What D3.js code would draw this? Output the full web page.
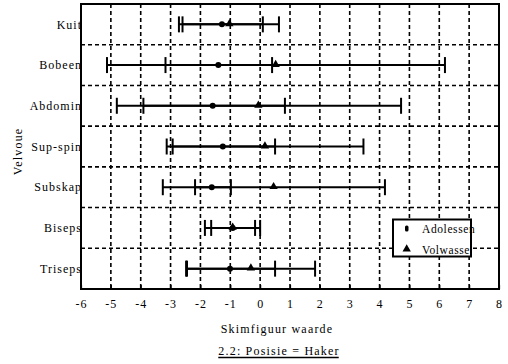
<!DOCTYPE html>
<html>
<head>
<meta charset="utf-8">
<script src="https://cdn.jsdelivr.net/npm/d3@7"></script>
<style>
  body { margin: 0; background: #fff; }
</style>
</head>
<body>
<svg id="chart" width="508" height="364"></svg>
<script>
// muscle sites (top to bottom)
const categories = ["Kuit", "Bobeen", "Abdomin", "Sup-spin", "Subskap", "Biseps", "Triseps"]
const xTicks = [-6, -5, -4, -3, -2, -1, 0, 1, 2, 3, 4, 5, 6, 7, 8]

// Adolessent: mean and interval
const adolMean = [-1.28, -1.40, -1.59, -1.25, -1.62, -0.92, -1.01]
const adolLow  = [-2.60, -3.17, -3.91, -2.93, -2.18, -1.64, -2.48]
const adolHigh = [0.09, 0.40, 0.83, 0.50, -0.98, -0.17, 0.50]

// Volwasse: mean and interval
const volMean = [-1.03, 0.52, -0.06, 0.16, 0.45, -0.92, -0.31]
const volLow  = [-2.72, -5.13, -4.80, -3.13, -3.26, -1.85, -2.45]
const volHigh = [0.63, 6.19, 4.72, 3.46, 4.18, 0.00, 1.84]

const FONT = "Liberation Serif"
const svg = d3.select("#chart").attr("font-family", FONT)
const margin = ({top: 4, right: 9, bottom: 75, left: 81})
const width = 508, height = 364

const x = d3.scaleLinear()
    .domain([-6, 8])
    .range([margin.left, width - margin.right])

const y = d3.scaleBand()
    .domain(categories)
    .range([margin.top, height - margin.bottom])
    .padding(0)

const plotH = height - margin.bottom - margin.top
const titleX = 277

// vertical dashed grid
svg.append("g")
    .selectAll("line")
    .data(xTicks.slice(1, -1))
    .join("line")
    .attr("x1", d => x(d)).attr("x2", d => x(d))
    .attr("y1", margin.top).attr("y2", height - margin.bottom)
    .attr("stroke", "#000")
    .attr("stroke-width", 1.6)
    .attr("stroke-dasharray", "4,3")

// horizontal dashed grid between categories
svg.append("g")
    .selectAll("line")
    .data(categories.slice(1))
    .join("line")
    .attr("x1", margin.left).attr("x2", width - margin.right)
    .attr("y1", d => y(d)).attr("y2", d => y(d))
    .attr("stroke", "#000")
    .attr("stroke-width", 1.6)
    .attr("stroke-dasharray", "4,3")

// x axis
svg.append("g")
    .attr("transform", `translate(0,${height - margin.bottom})`)
    .call(d3.axisBottom(x).tickValues(xTicks).tickSize(-4).tickPadding(10).tickFormat(d => String(d)))
    .attr("font-family", FONT)
    .attr("font-size", 12)
    .call(g => g.select(".domain").remove())
    .call(g => g.selectAll(".tick line").attr("stroke-width", 1.2))
    .call(g => g.selectAll(".tick text").attr("letter-spacing", "1px"))

// category labels
svg.append("g")
    .selectAll("text")
    .data(categories)
    .join("text")
    .attr("x", margin.left + 1)
    .attr("y", d => y(d) + y.bandwidth() / 2)
    .attr("dy", "0.35em")
    .attr("text-anchor", "end")
    .attr("font-size", 12)
    .attr("letter-spacing", "1px")
    .text(d => d)

// error bars
const series = [
    {name: "adol", mean: adolMean, low: adolLow, high: adolHigh},
    {name: "vol", mean: volMean, low: volLow, high: volHigh}
]
const capH = 8

series.forEach(s => {
    const g = svg.append("g").attr("stroke", "#000").attr("stroke-width", 2)
    categories.forEach((c, i) => {
        const cy = y(c) + y.bandwidth() / 2
        g.append("line")
            .attr("x1", x(s.low[i])).attr("x2", x(s.high[i]))
            .attr("y1", cy).attr("y2", cy)
        g.append("line")
            .attr("x1", x(s.low[i])).attr("x2", x(s.low[i]))
            .attr("y1", cy - capH).attr("y2", cy + capH)
        g.append("line")
            .attr("x1", x(s.high[i])).attr("x2", x(s.high[i]))
            .attr("y1", cy - capH).attr("y2", cy + capH)
    })
})

const triangle = d3.symbol().type(d3.symbolTriangle).size(30)

// means
svg.append("g")
    .selectAll("circle")
    .data(categories)
    .join("circle")
    .attr("cx", (d, i) => x(adolMean[i]))
    .attr("cy", d => y(d) + y.bandwidth() / 2)
    .attr("r", 3)
    .attr("fill", "#000")

svg.append("g")
    .selectAll("path")
    .data(categories)
    .join("path")
    .attr("d", triangle)
    .attr("transform", (d, i) => `translate(${x(volMean[i])},${y(d) + y.bandwidth() / 2 - 0.5})`)
    .attr("fill", "#000")

// legend
const lg = svg.append("g")
lg.append("rect")
    .attr("x", 393).attr("y", 219.5)
    .attr("width", 78).attr("height", 37)
    .attr("fill", "#fff")
    .attr("stroke", "#000")
    .attr("stroke-width", 2)
lg.append("rect")
    .attr("x", 405).attr("y", 225.5)
    .attr("width", 3.5).attr("height", 6).attr("rx", 1.5)
    .attr("fill", "#000")
lg.append("path")
    .attr("d", triangle)
    .attr("transform", "translate(406.7,249)")
    .attr("fill", "#000")
lg.append("text")
    .attr("x", 422).attr("y", 229).attr("dy", "0.35em")
    .attr("font-size", 11.5).attr("letter-spacing", "0.6px")
    .text("Adolessen")
lg.append("text")
    .attr("x", 422).attr("y", 249.5).attr("dy", "0.35em")
    .attr("font-size", 11.5).attr("letter-spacing", "0.6px")
    .text("Volwasse")

// frame
svg.append("rect")
    .attr("x", margin.left).attr("y", margin.top)
    .attr("width", width - margin.left - margin.right)
    .attr("height", plotH)
    .attr("fill", "none")
    .attr("stroke", "#000")
    .attr("stroke-width", 2)

// axis titles
svg.append("text")
    .attr("x", titleX)
    .attr("y", 333)
    .attr("text-anchor", "middle")
    .attr("font-size", 12)
    .attr("letter-spacing", "1.2px")
    .text("Skimfiguur waarde")

svg.append("text")
    .attr("transform", `translate(22,${(margin.top + height - margin.bottom) / 2 + 5}) rotate(-90)`)
    .attr("text-anchor", "middle")
    .attr("font-size", 12)
    .attr("letter-spacing", "1.2px")
    .text("Velvoue")

const sub = svg.append("text")
    .attr("x", titleX + 2)
    .attr("y", 355)
    .attr("text-anchor", "middle")
    .attr("font-size", 12)
    .attr("letter-spacing", "1.2px")
    .text("2.2: Posisie = Haker")

const bb = sub.node().getBBox()
svg.append("line")
    .attr("x1", bb.x).attr("x2", bb.x + bb.width - 1)
    .attr("y1", 357.5).attr("y2", 357.5)
    .attr("stroke", "#000")
    .attr("stroke-width", 1.5)
</script>
</body>
</html>
